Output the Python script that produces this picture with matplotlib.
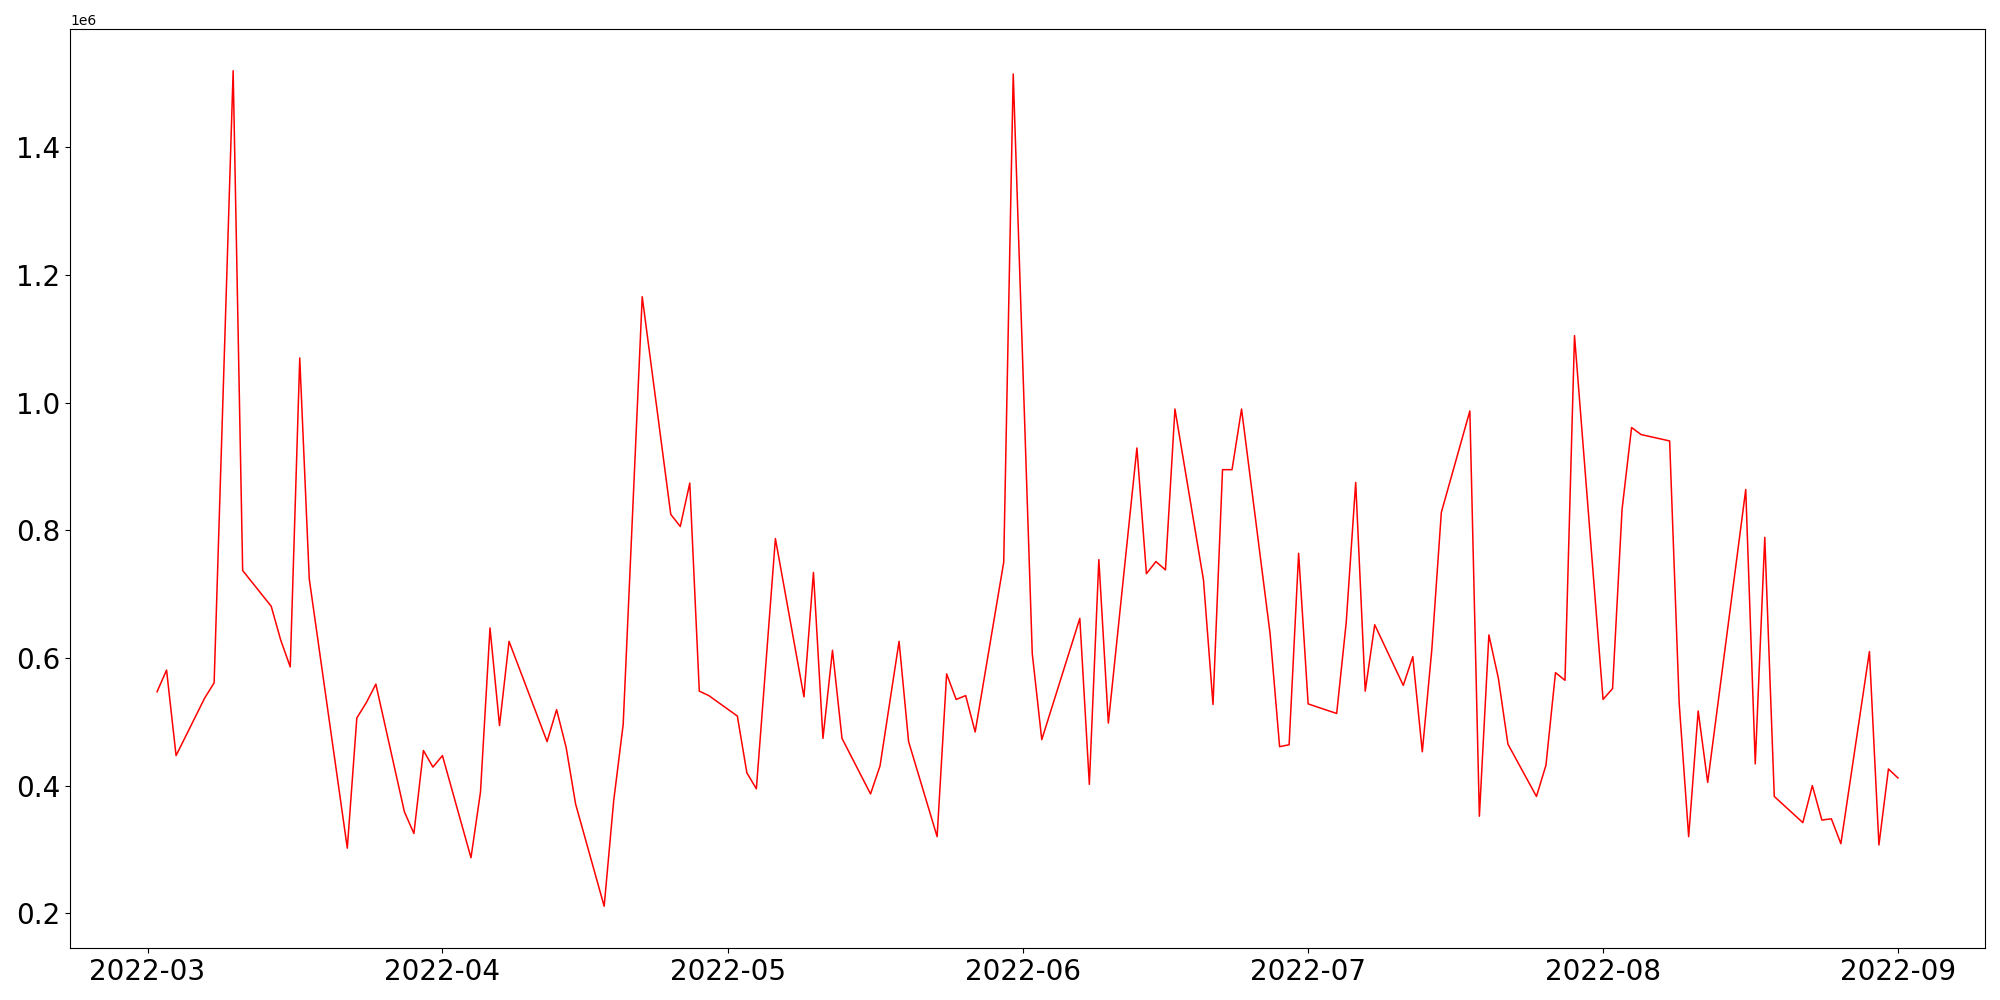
import pandas as pd
import matplotlib
matplotlib.use("Agg")
import matplotlib.pyplot as plt

# daily values (weekdays, some days missing)
dates = [
    "2022-03-02", "2022-03-03", "2022-03-04", "2022-03-07", "2022-03-08",
    "2022-03-10", "2022-03-11", "2022-03-14", "2022-03-15", "2022-03-16",
    "2022-03-17", "2022-03-18", "2022-03-22", "2022-03-23", "2022-03-24",
    "2022-03-25", "2022-03-28", "2022-03-29", "2022-03-30", "2022-03-31",
    "2022-04-01", "2022-04-04", "2022-04-05", "2022-04-06", "2022-04-07",
    "2022-04-08", "2022-04-12", "2022-04-13", "2022-04-14", "2022-04-15",
    "2022-04-18", "2022-04-19", "2022-04-20", "2022-04-22", "2022-04-25",
    "2022-04-26", "2022-04-27", "2022-04-28", "2022-04-29", "2022-05-02",
    "2022-05-03", "2022-05-04", "2022-05-06", "2022-05-09", "2022-05-10",
    "2022-05-11", "2022-05-12", "2022-05-13", "2022-05-16", "2022-05-17",
    "2022-05-19", "2022-05-20", "2022-05-23", "2022-05-24", "2022-05-25",
    "2022-05-26", "2022-05-27", "2022-05-30", "2022-05-31", "2022-06-02",
    "2022-06-03", "2022-06-07", "2022-06-08", "2022-06-09", "2022-06-10",
    "2022-06-13", "2022-06-14", "2022-06-15", "2022-06-16", "2022-06-17",
    "2022-06-20", "2022-06-21", "2022-06-22", "2022-06-23", "2022-06-24",
    "2022-06-27", "2022-06-28", "2022-06-29", "2022-06-30", "2022-07-01",
    "2022-07-04", "2022-07-05", "2022-07-06", "2022-07-07", "2022-07-08",
    "2022-07-11", "2022-07-12", "2022-07-13", "2022-07-14", "2022-07-15",
    "2022-07-18", "2022-07-19", "2022-07-20", "2022-07-21", "2022-07-22",
    "2022-07-25", "2022-07-26", "2022-07-27", "2022-07-28", "2022-07-29",
    "2022-08-01", "2022-08-02", "2022-08-03", "2022-08-04", "2022-08-05",
    "2022-08-08", "2022-08-09", "2022-08-10", "2022-08-11", "2022-08-12",
    "2022-08-16", "2022-08-17", "2022-08-18", "2022-08-19", "2022-08-22",
    "2022-08-23", "2022-08-24", "2022-08-25", "2022-08-26", "2022-08-29",
    "2022-08-30", "2022-08-31", "2022-09-01",
]

values_m = [
    0.547, 0.581, 0.447, 0.537, 0.561,
    1.520, 0.737, 0.681, 0.628, 0.586,
    1.070, 0.724, 0.302, 0.506, 0.530,
    0.559, 0.359, 0.325, 0.455, 0.429,
    0.447, 0.287, 0.390, 0.647, 0.494,
    0.626, 0.469, 0.519, 0.460, 0.371,
    0.211, 0.376, 0.496, 1.166, 0.825,
    0.806, 0.874, 0.548, 0.541, 0.509,
    0.420, 0.395, 0.787, 0.539, 0.734,
    0.474, 0.612, 0.474, 0.387, 0.431,
    0.626, 0.469, 0.320, 0.575, 0.535,
    0.541, 0.484, 0.750, 1.515, 0.607,
    0.472, 0.662, 0.402, 0.754, 0.498,
    0.929, 0.732, 0.751, 0.738, 0.990,
    0.722, 0.527, 0.895, 0.895, 0.990,
    0.638, 0.461, 0.464, 0.764, 0.528,
    0.513, 0.655, 0.875, 0.548, 0.652,
    0.557, 0.602, 0.453, 0.613, 0.828,
    0.987, 0.352, 0.636, 0.568, 0.465,
    0.383, 0.432, 0.577, 0.565, 1.105,
    0.535, 0.552, 0.833, 0.961, 0.950,
    0.940, 0.530, 0.320, 0.517, 0.405,
    0.864, 0.434, 0.789, 0.383, 0.342,
    0.400, 0.346, 0.348, 0.309, 0.610,
    0.307, 0.426, 0.412,
]

x = pd.to_datetime(dates)
y = [v * 1e6 for v in values_m]

fig, ax = plt.subplots(figsize=(20, 10), dpi=100)
ax.plot(x, y, color="red", lw=1.1)
ax.tick_params(axis="both", labelsize=20)
fig.subplots_adjust(left=0.035, right=0.9925, top=0.971, bottom=0.052)

fig.savefig("out.png")
